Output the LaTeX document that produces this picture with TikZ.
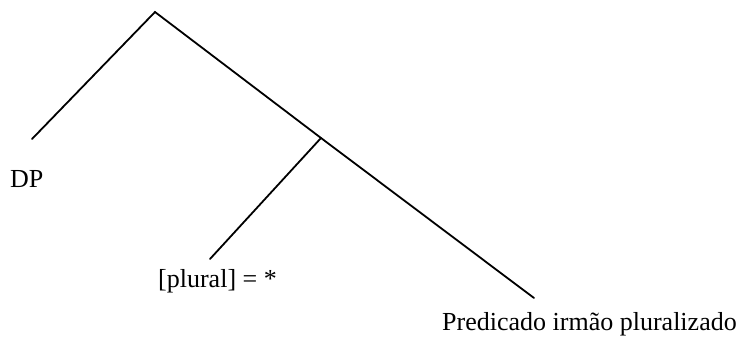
\documentclass[tikz,border=0pt]{standalone}
\usepackage{fontspec}
\setmainfont{Liberation Serif}
\usepackage{tikz}
\usetikzlibrary{positioning}

\begin{document}
\begin{tikzpicture}[
    x=1pt, y=-1pt,
    leaf/.style={anchor=base west, inner sep=0pt, font=\fontsize{26}{30}\selectfont},
    branch/.style={line width=1.8pt, line cap=round}
]
\useasboundingbox (0,0) rectangle (744,339);

\coordinate (root) at (155,12);
\coordinate (mid) at (321,138);
\coordinate (dpend) at (32,139);
\coordinate (plend) at (210,259);
\coordinate (predend) at (534,298);

\node[leaf] (dp) at (10,188) {DP};
\node[leaf] (plural) at (158,287) {[plural] = *};
\node[leaf] (pred) at (442,330) {Predicado irmão pluralizado};

\draw[branch] (dpend) -- (root) -- (mid) -- (predend);
\draw[branch] (mid) -- (plend);

\end{tikzpicture}
\end{document}
